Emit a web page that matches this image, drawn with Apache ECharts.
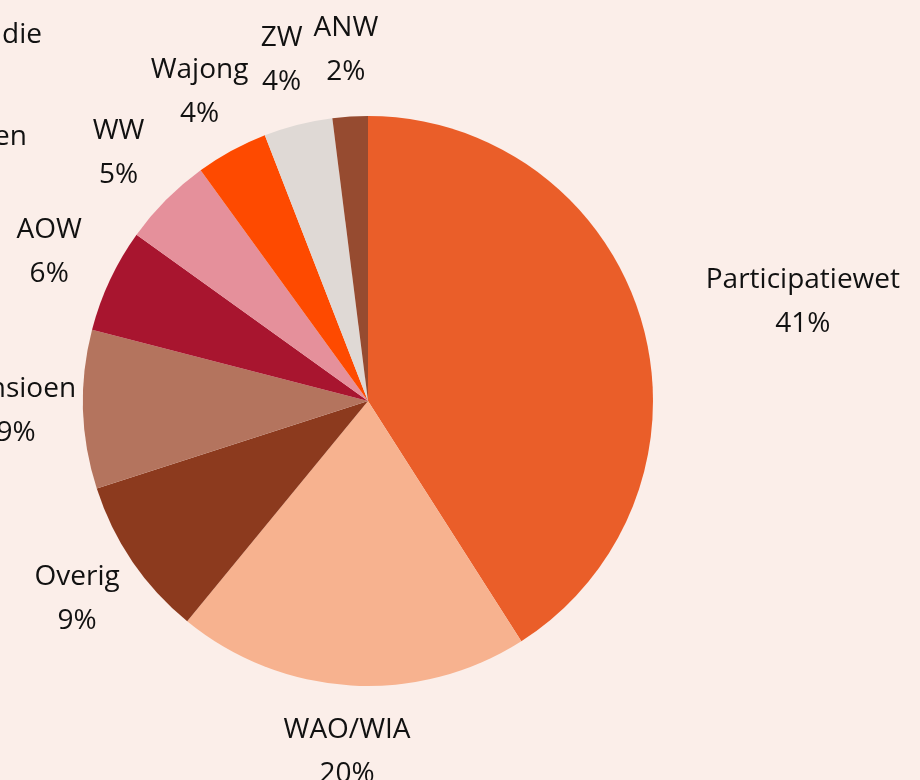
<!DOCTYPE html>
<html>
<head>
<meta charset="utf-8">
<style>
  html, body { margin: 0; padding: 0; background: #fbeee9; }
  #main { width: 920px; height: 780px; }
</style>
<script src="https://cdn.jsdelivr.net/npm/echarts@6/dist/echarts.min.js"></script>
</head>
<body>
<div id="main"></div>
<script>
// uitkeringen per regeling (aandeel in %)
var categories = ["Participatiewet", "WAO/WIA", "Overig", "Pensioen", "AOW", "WW", "Wajong", "ZW", "ANW"];
var values = [41, 20, 9.1, 9, 5.9, 5.1, 4.1, 3.9, 2];
var colors = ["#ea5e29", "#f7b28f", "#8c3a1e", "#b4745e", "#a8152f", "#e5909b", "#fe4a00", "#dfd9d5", "#964b30"];

var pieCenter = [368, 401];
var pieRadius = 285;

var myChart = echarts.init(document.getElementById('main'));

var seriesData = [];
for (var i = 0; i < categories.length; i++) {
    seriesData.push({
        name: categories[i],
        value: values[i],
        itemStyle: { color: colors[i] }
    });
}

// labels centred on their anchor; pushed sideways when they would cover the pie
function placeLabel(p) {
    var rect = p.labelRect;
    var ax = p.align === 'right' ? rect.x + rect.width : rect.x;
    var ay = rect.y + rect.height / 2;
    var dir = ax < pieCenter[0] ? -1 : 1;
    function nearest(x, y) {
        var nx = Math.max(x - rect.width / 2, Math.min(pieCenter[0], x + rect.width / 2));
        var ny = Math.max(y - rect.height / 2, Math.min(pieCenter[1], y + rect.height / 2));
        return Math.sqrt((nx - pieCenter[0]) * (nx - pieCenter[0]) + (ny - pieCenter[1]) * (ny - pieCenter[1]));
    }
    if (nearest(ax, ay) < pieRadius) {
        var t = 0;
        while (nearest(ax + dir * t, ay) < pieRadius + 57 && t < 400) t += 1;
        ax += dir * t;
    }
    return { x: ax, y: ay, align: 'center', verticalAlign: 'middle' };
}

var option = {
    backgroundColor: '#fbeee9',
    animation: false,
    graphic: [
        { type: 'text', right: 878, top: 21, style: { text: 'die', fontFamily: 'Open Sans', fontSize: 28, fill: '#111' } },
        { type: 'text', right: 893, top: 123, style: { text: 'en', fontFamily: 'Open Sans', fontSize: 28, fill: '#111' } }
    ],
    series: [{
        type: 'pie',
        center: pieCenter,
        radius: pieRadius,
        startAngle: 90,
        clockwise: true,
        avoidLabelOverlap: false,
        data: seriesData,
        itemStyle: { borderWidth: 0 },
        label: {
            show: true,
            position: 'outside',
            distanceToLabelLine: 0,
            fontFamily: 'Open Sans',
            fontSize: 28,
            lineHeight: 44,
            color: '#111',
            formatter: function (p) {
                return p.name + '\n' + Math.round(p.percent) + '%';
            }
        },
        labelLine: { show: false, length: 67, length2: 0 },
        labelLayout: placeLabel,
        emphasis: { disabled: true }
    }]
};
myChart.setOption(option);
</script>
</body>
</html>
